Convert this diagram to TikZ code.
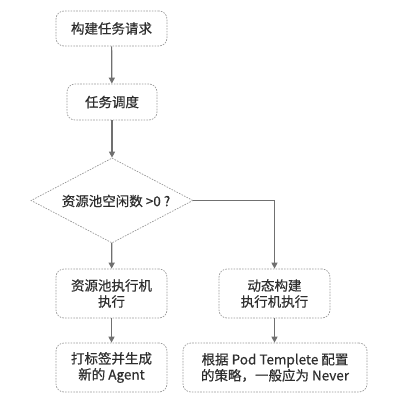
\documentclass[tikz,border=0pt]{standalone}
\usepackage{fontspec}
\setmainfont{Noto Sans CJK SC}[FakeBold=0.5]
\usetikzlibrary{shapes.geometric,arrows.meta}
\definecolor{txt}{HTML}{2E2E2E}
\definecolor{edge}{HTML}{9A9A9A}
\definecolor{arr}{HTML}{707070}
\tikzset{
  box/.style={draw=edge, line width=0.7pt, dash pattern=on 1.6pt off 1.2pt, rounded corners=8pt,
    text=txt, align=center, inner sep=0pt, font=\fontsize{13.5}{16}\selectfont},
  dec/.style={diamond, draw=edge, line width=0.7pt, dash pattern=on 1.6pt off 1.2pt, text=txt,
    inner sep=0pt},
  link/.style={draw=arr, line width=1.2pt, -{Triangle[length=6pt,width=6pt]}}
}
\begin{document}
\begin{tikzpicture}[x=1pt,y=-1pt]
\useasboundingbox (0,0) rectangle (400,402);
\node[box, minimum width=111pt, minimum height=35pt] (a) at (111.5,28.5) {构建任务请求};
\node[box, minimum width=90pt, minimum height=36pt] (b) at (112,102) {任务调度};
\node[dec, minimum width=162pt, minimum height=85pt] (c) at (112,200.5) {};
\node[text=txt, font=\fontsize{13.5}{16}\selectfont] (ct) at (116,201) {资源池空闲数 >0 ?};
\node[box, minimum width=111pt, minimum height=49pt] (d) at (111.5,293.5) {资源池执行机\\执行};
\node[box, minimum width=111pt, minimum height=49pt] (e) at (274.5,293.5) {动态构建\\执行机执行};
\node[box, minimum width=111pt, minimum height=49pt] (f) at (111.5,367.5) {打标签并生成\\新的 Agent};
\node[box, minimum width=184pt, minimum height=49pt] (g) at (275,367.5) {根据 Pod Templete 配置\\的策略，一般应为 Never};
\draw[link] (a) -- (b);
\draw[link] (b) -- (c);
\draw[link] (c) -- (d);
\draw[link] (c.east) -| (e);
\draw[link] (d) -- (f);
\draw[link] (e.south) -- (e.south |- g.north);
\end{tikzpicture}
\end{document}
